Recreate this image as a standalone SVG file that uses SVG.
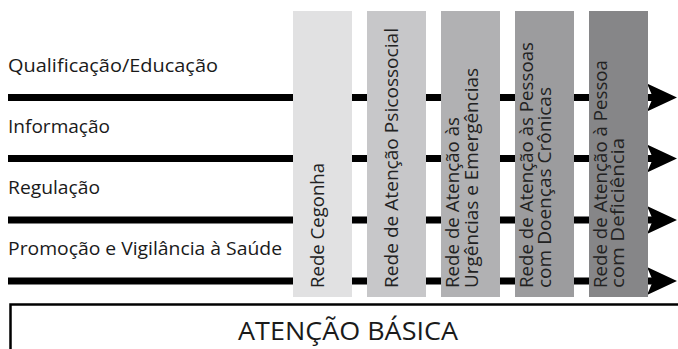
<svg xmlns="http://www.w3.org/2000/svg" width="678" height="349" viewBox="0 0 678 349">
<style>
.lbl{font-family:"Open Sans","Liberation Sans",sans-serif;font-size:18px;fill:#1a1a1a}
.col{font-family:"Open Sans","Liberation Sans",sans-serif;font-size:17.5px;fill:#222}
.ln{stroke:#000;stroke-width:7;fill:none;marker-end:url(#arr)}
.title{font-family:"Open Sans","Liberation Sans",sans-serif;font-size:25px;fill:#1a1a1a}
</style>
<defs>
<marker id="arr" viewBox="0 0 30 28" refX="6" refY="14" markerWidth="30" markerHeight="28" markerUnits="userSpaceOnUse" orient="auto">
<path d="M0,0 L30,14 L0,28 L6,14 Z" fill="#000"/>
</marker>
</defs>
<rect width="678" height="349" fill="#fff"/>
<g id="labels">
<text class="lbl" x="8" y="72" textLength="210" lengthAdjust="spacingAndGlyphs">Qualificação/Educação</text>
<text class="lbl" x="8" y="133" textLength="102" lengthAdjust="spacingAndGlyphs">Informação</text>
<text class="lbl" x="8" y="194" textLength="92" lengthAdjust="spacingAndGlyphs">Regulação</text>
<text class="lbl" x="8" y="255" textLength="274" lengthAdjust="spacingAndGlyphs">Promoção e Vigilância à Saúde</text>
</g>
<g id="connectors">
<line class="ln" x1="8" y1="97.5" x2="653" y2="97.5"/>
<line class="ln" x1="8" y1="158.5" x2="653" y2="158.5"/>
<line class="ln" x1="8" y1="220" x2="653" y2="220"/>
<line class="ln" x1="8" y1="281" x2="653" y2="281"/>
</g>
<g id="rede-cegonha">
<rect x="293" y="11" width="59" height="286" fill="#e1e1e2"/>
<text class="col" transform="translate(324,288) rotate(-90)" textLength="125" lengthAdjust="spacingAndGlyphs">Rede Cegonha</text>
</g>
<g id="rede-psicossocial">
<rect x="367" y="11" width="59" height="286" fill="#c7c7c9"/>
<text class="col" transform="translate(398,288) rotate(-90)" textLength="260" lengthAdjust="spacingAndGlyphs">Rede de Atenção Psicossocial</text>
</g>
<g id="rede-urgencias">
<rect x="441" y="11" width="59" height="286" fill="#b1b1b3"/>
<text class="col" transform="translate(459,288) rotate(-90)" textLength="171" lengthAdjust="spacingAndGlyphs">Rede de Atenção às</text>
<text class="col" transform="translate(478,288) rotate(-90)" textLength="220" lengthAdjust="spacingAndGlyphs">Urgências e Emergências</text>
</g>
<g id="rede-cronicas">
<rect x="515" y="11" width="59" height="286" fill="#9c9c9e"/>
<text class="col" transform="translate(533,288) rotate(-90)" textLength="246" lengthAdjust="spacingAndGlyphs">Rede de Atenção às Pessoas</text>
<text class="col" transform="translate(551,288) rotate(-90)" textLength="201" lengthAdjust="spacingAndGlyphs">com Doenças Crônicas</text>
</g>
<g id="rede-deficiencia">
<rect x="589" y="11" width="59" height="286" fill="#868688"/>
<text class="col" transform="translate(607,288) rotate(-90)" textLength="228" lengthAdjust="spacingAndGlyphs">Rede de Atenção à Pessoa</text>
<text class="col" transform="translate(624,288) rotate(-90)" textLength="150" lengthAdjust="spacingAndGlyphs">com Deficiência</text>
</g>
<g id="atencao-basica">
<rect x="10.5" y="304.5" width="680" height="60" fill="none" stroke="#000" stroke-width="2.5"/>
<text class="title" x="238" y="340" textLength="220" lengthAdjust="spacingAndGlyphs">ATENÇÃO BÁSICA</text>
</g>
</svg>
